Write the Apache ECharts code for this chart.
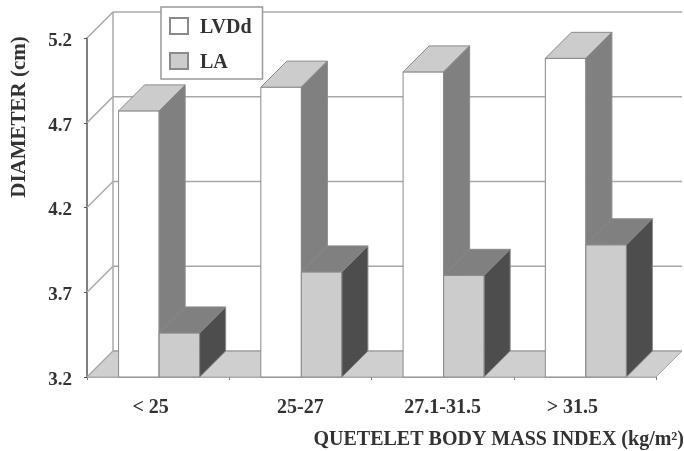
<!DOCTYPE html>
<html><head><meta charset="utf-8">
<style>html,body{margin:0;padding:0;background:#fff}#c{width:684px;height:451px}</style>
<script src="https://cdn.jsdelivr.net/npm/echarts@6/dist/echarts.min.js"></script></head>
<body><div id="c"></div>
<script>
const categories = ['< 25', '25-27', '27.1-31.5', '> 31.5'];
const lvdd = [4.77, 4.91, 5.0, 5.08];
const la = [3.46, 3.82, 3.8, 3.98];
const yTicks = [3.2, 3.7, 4.2, 4.7, 5.2];
const yMin = 3.2, yMax = 5.2;
const serif = '"Liberation Serif","DejaVu Serif",serif';
const D = 26, EDGE = '#8a8a8a';
const chart = echarts.init(document.getElementById('c'), null, {renderer:'canvas'});

function poly(points, fill, stroke, lw){
  return {type:'polygon', shape:{points}, style:{fill, stroke: stroke||EDGE, lineWidth: lw===undefined?1:lw}};
}
function line(x1,y1,x2,y2,c,w){
  return {type:'line', shape:{x1,y1,x2,y2}, style:{stroke:c||'#a8a8a8', lineWidth:w||1.5}};
}
function barRender(side, front, top, sideCol){
  return function(params, api){
    const cat = api.value(0), val = api.value(1);
    const band = api.size([1,0])[0], w = band*0.285;
    const p = api.coord([cat,val]), b = api.coord([cat,yMin]);
    const x0 = side<0 ? p[0]-w+1 : p[0]+1, x1 = x0+w, y = p[1], yb = b[1];
    return {type:'group', children:[
      poly([[x0,y],[x1,y],[x1,yb],[x0,yb]], front),
      poly([[x0,y],[x1,y],[x1+D,y-D],[x0+D,y-D]], top),
      poly([[x1,y],[x1+D,y-D],[x1+D,yb-D],[x1,yb]], sideCol)
    ]};
  };
}
function wallRender(params, api){
  const v = api.value(1), p = api.coord([0,v]);
  const band = api.size([1,0])[0];
  const xL = p[0]-band/2, xR = xL+band*categories.length, y = p[1];
  const kids = [];
  if (params.dataIndex===0){
    const top = api.coord([0,yMax])[1];
    kids.push(poly([[xL,y],[xR,y],[xR+D,y-D],[xL+D,y-D]], '#cfcfcf', '#a8a8a8', 1));
    kids.push(line(xL+D,y-D,xL+D,top-D));
  }
  kids.push(line(xL,y,xL+D,y-D));
  kids.push(line(xL+D,y-D,xR+D,y-D));
  return {type:'group', children:kids};
}
const textBase = {fontFamily:serif, fontWeight:'bold', color:'#333'};
chart.setOption({
  animation:false,
  backgroundColor:'#fff',
  grid:{left:87, top:38, width:569, height:339, containLabel:false},
  legend:{
    orient:'vertical', left:161, top:7, padding:[10,11,6,8], itemWidth:18, itemHeight:16, itemGap:14,
    backgroundColor:'#fff', borderColor:'#999', borderWidth:1.5, borderRadius:0,
    formatter:n=>'{t|'+n+'}',
    textStyle:Object.assign({fontSize:20, rich:{t:Object.assign({fontSize:20, padding:[4,0,0,7]},textBase)}},textBase),
    data:[{name:'LVDd', icon:'rect'},{name:'LA', icon:'rect'}], z:20
  },
  xAxis:{type:'category', data:categories, boundaryGap:true,
    axisLine:{lineStyle:{color:'#999', width:1.5}},
    axisTick:{show:true, length:3, alignWithLabel:false, lineStyle:{color:'#777'}},
    splitLine:{show:false},
    axisLabel:{interval:0, margin:21, fontFamily:serif, fontWeight:'bold', fontSize:20, color:'#333',
      formatter:(v,i)=>{ const pad=[3,0,0,5][i]; return v+'\u00a0'.repeat(pad); }}
  },
  yAxis:{type:'value', min:yMin, max:yMax,
    axisLine:{show:true, lineStyle:{color:'#555', width:1.5}},
    axisTick:{show:true, length:3, customValues:yTicks, lineStyle:{color:'#555'}},
    splitLine:{show:false},
    axisLabel:{customValues:yTicks, margin:15, fontFamily:serif, fontWeight:'bold', fontSize:19, color:'#333',
      formatter:v=>'{t|'+v.toFixed(1)+'}',
      rich:{t:Object.assign({fontSize:19, padding:[6,0,0,0]},textBase)}}
  },
  graphic:[
    {type:'text', x:20, y:117, rotation:Math.PI/2, originX:0, originY:0,
     style:{text:'DIAMETER (cm)', fontFamily:serif, fontWeight:'bold', fontSize:21, fill:'#333', align:'center', verticalAlign:'middle'}},
    {type:'text', x:684, y:440,
     style:{text:'QUETELET BODY MASS INDEX (kg/m²)', fontFamily:serif, fontWeight:'bold', fontSize:20, fill:'#333', align:'right', verticalAlign:'middle'}}
  ],
  series:[
    {type:'custom', name:'walls', silent:true, z:1, renderItem:wallRender, data:yTicks.map(t=>[0,t]), encode:{x:0,y:1}, clip:false},
    {type:'custom', name:'LVDd', z:2, itemStyle:{color:'#ffffff', borderColor:EDGE, borderWidth:1}, renderItem:barRender(-1,'#ffffff','#cccccc','#808080'), data:lvdd.map((v,i)=>[i,v]), encode:{x:0,y:1}, clip:false},
    {type:'custom', name:'LA', z:3, itemStyle:{color:'#cccccc', borderColor:EDGE, borderWidth:1}, renderItem:barRender(1,'#cccccc','#808080','#4d4d4d'), data:la.map((v,i)=>[i,v]), encode:{x:0,y:1}, clip:false}
  ]
});
</script></body></html>
